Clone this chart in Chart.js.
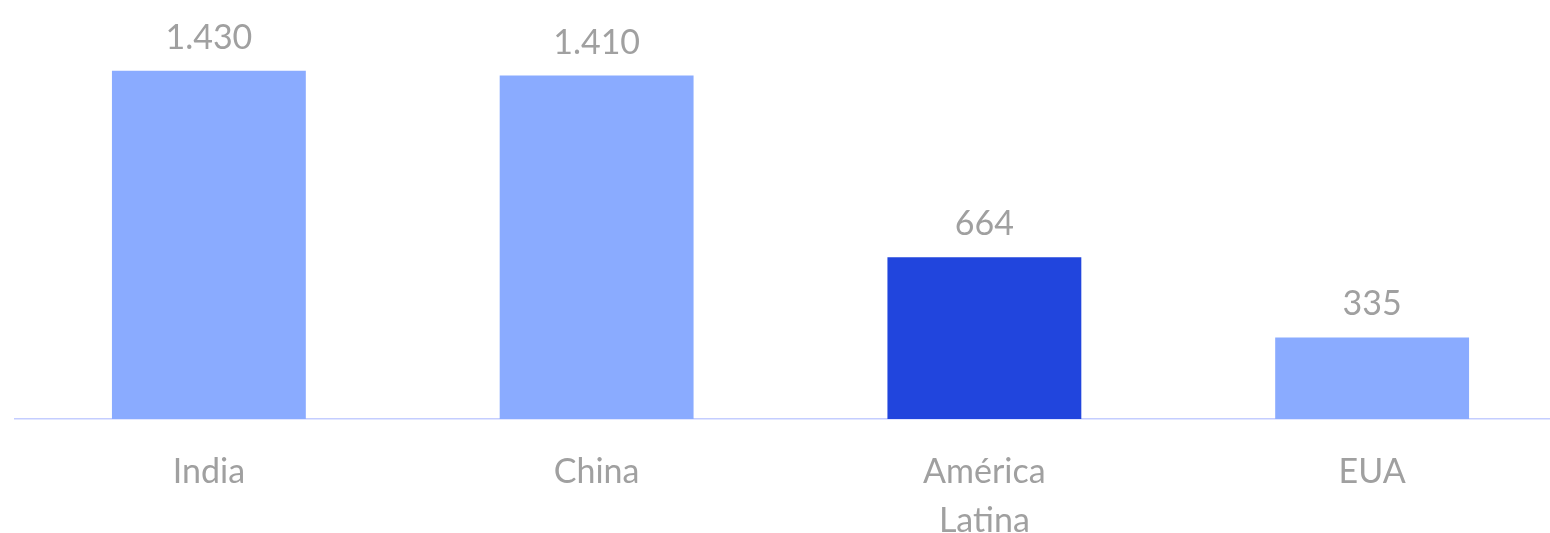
<!DOCTYPE html>
<html>
<head>
<meta charset="utf-8">
<script src="https://cdn.jsdelivr.net/npm/chart.js@4.4.0/dist/chart.umd.min.js"></script>
<style>
  html, body { margin: 0; padding: 0; background: #fff; overflow: hidden; }
  #wrap { width: 1566px; height: 533px; }
</style>
</head>
<body>
<div id="wrap"><canvas id="myChart" width="1566" height="533"></canvas></div>
<script>
// valores
let regioes = [['India'], ['China'], ['América', 'Latina'], ['EUA']];
let valores = [1430, 1410, 664, 335];
let cores = ['#8AABFF', '#8AABFF', '#2145DD', '#8AABFF'];

const grey = '#A0A0A0';
const fonte = 'Lato, "Open Sans", sans-serif';

// formato pt-BR: 1.430
function fmt(v) {
    return String(v).replace(/\B(?=(\d{3})+(?!\d))/g, '.');
}

// rotulos acima das barras
const valueLabels = {
    id: 'valueLabels',
    afterDatasetsDraw(chart) {
        let c = chart.ctx;
        let meta = chart.getDatasetMeta(0);
        c.save();
        c.fillStyle = grey;
        c.font = '34px ' + fonte;
        c.textAlign = 'center';
        c.textBaseline = 'alphabetic';
        meta.data.forEach((bar, i) => {
            c.fillText(fmt(valores[i]), bar.x, bar.y - 22);
        });
        c.restore();
    }
};

let ctx = document.getElementById('myChart');

const myChart = new Chart(ctx, {
    type: 'bar',
    data: {
        labels: regioes,
        datasets: [{
            data: valores,
            backgroundColor: cores,
            borderWidth: 0,
            categoryPercentage: 1,
            barPercentage: 0.5
        }]
    },
    options: {
        responsive: false,
        animation: false,
        layout: { padding: { left: 15, right: 0, top: 0, bottom: 0 } },
        plugins: {
            legend: { display: false },
            tooltip: { enabled: false }
        },
        scales: {
            y: {
                display: false,
                min: 0,
                max: 1720
            },
            x: {
                grid: { display: false, drawTicks: false },
                border: { display: true, color: '#C4CDFF', width: 1.5 },
                ticks: {
                    color: grey,
                    padding: 29,
                    font: { family: fonte, size: 34, lineHeight: 1.44 }
                },
                afterFit: (s) => { s.height = 114; }
            }
        }
    },
    plugins: [valueLabels]
});
</script>
</body>
</html>
